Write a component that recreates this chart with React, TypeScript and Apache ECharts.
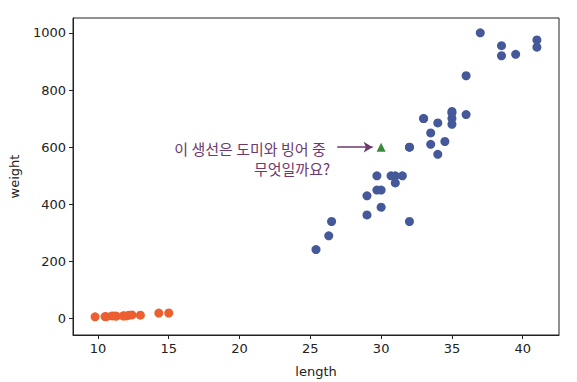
import React, { useEffect, useRef } from "react";
import * as echarts from "echarts";

const breamLength = [25.4, 26.3, 26.5, 29.0, 29.0, 29.7, 29.7, 30.0, 30.0, 30.7, 31.0, 31.0, 31.5, 32.0, 32.0, 32.0, 33.0, 33.0, 33.5, 33.5, 34.0, 34.0, 34.5, 35.0, 35.0, 35.0, 35.0, 36.0, 36.0, 37.0, 38.5, 38.5, 39.5, 41.0, 41.0];
const breamWeight = [242.0, 290.0, 340.0, 363.0, 430.0, 450.0, 500.0, 390.0, 450.0, 500.0, 475.0, 500.0, 500.0, 340.0, 600.0, 600.0, 700.0, 700.0, 610.0, 650.0, 575.0, 685.0, 620.0, 680.0, 700.0, 725.0, 720.0, 714.0, 850.0, 1000.0, 920.0, 955.0, 925.0, 975.0, 950.0];
const smeltLength = [9.8, 10.5, 10.6, 11.0, 11.2, 11.3, 11.8, 11.8, 12.0, 12.2, 12.4, 13.0, 14.3, 15.0];
const smeltWeight = [6.7, 7.5, 7.0, 9.7, 9.8, 8.7, 10.0, 9.9, 9.8, 12.2, 13.4, 12.2, 19.7, 19.9];
const newFish = [30, 600];
const arrowFrom = [26.9, 600];
const arrowTo = [29.4, 600];
const xTicks = [10, 15, 20, 25, 30, 35, 40];
const yTicks = [0, 200, 400, 600, 800, 1000];
const noteLines = ["이 생선은 도미와 빙어 중", "무엇일까요?"];

export default function App() {
  const ref = useRef<HTMLDivElement>(null);
  useEffect(() => {
    if (!ref.current) return;
    const chart = echarts.init(ref.current, undefined, { renderer: "svg" });
    const font = "'DejaVu Sans', sans-serif";
    const purple = "#6e3a6e";
    chart.setOption({
      animation: false,
      grid: {
        left: 65, right: 10, top: 10, bottom: 47,
        containLabel: false, outerBoundsMode: "none",
        show: true, borderColor: "#222", borderWidth: 1, backgroundColor: "transparent",
      },
      xAxis: {
        type: "value",
        min: 8.24,
        max: 42.56,
        name: "length",
        nameLocation: "middle",
        nameGap: 30,
        nameTextStyle: { color: "#222", fontSize: 13, fontFamily: font },
        axisLine: { show: true, onZero: false, lineStyle: { color: "#222", width: 1 } },
        axisTick: { show: true, length: 4, lineStyle: { color: "#222" }, customValues: xTicks },
        axisLabel: { color: "#222", fontSize: 13, fontFamily: font, margin: 7, customValues: xTicks, formatter: (v: number) => String(v) },
        splitLine: { show: false },
      },
      yAxis: {
        type: "value",
        min: -57,
        max: 1052,
        name: "weight",
        nameLocation: "middle",
        nameGap: 52,
        nameTextStyle: { color: "#222", fontSize: 13, fontFamily: font },
        axisLine: { show: true, onZero: false, lineStyle: { color: "#222", width: 1 } },
        axisTick: { show: true, length: 4, lineStyle: { color: "#222" }, customValues: yTicks },
        axisLabel: { color: "#222", fontSize: 13, fontFamily: font, margin: 7, customValues: yTicks, formatter: (v: number) => String(v) },
        splitLine: { show: false },
      },
      series: [
        {
          type: "scatter",
          name: "bream",
          symbolSize: 9,
          itemStyle: { color: "#44589a", opacity: 1 },
          data: breamLength.map((l, i) => [l, breamWeight[i]]),
        },
        {
          type: "scatter",
          name: "smelt",
          symbolSize: 9,
          itemStyle: { color: "#ec5f30", opacity: 1 },
          data: smeltLength.map((l, i) => [l, smeltWeight[i]]),
        },
        {
          type: "scatter",
          name: "new",
          symbol: "triangle",
          symbolSize: 9,
          itemStyle: { color: "#3b8a3b", opacity: 1 },
          data: [newFish],
          markLine: {
            silent: true,
            symbol: ["none", "arrow"],
            symbolSize: [8, 9],
            lineStyle: { color: purple, width: 1.5, type: "solid" },
            label: { show: false },
            data: [[{ coord: arrowFrom }, { coord: arrowTo }]],
          },
        },
      ],
      graphic: [
        {
          type: "text",
          x: 242,
          y: 140,
          style: {
            text: noteLines[0],
            fill: purple,
            font: "15px 'Noto Sans CJK KR'",
            align: "center",
            verticalAlign: "middle",
          },
        },
        {
          type: "text",
          x: 284,
          y: 160,
          style: {
            text: noteLines[1],
            fill: purple,
            font: "15px 'Noto Sans CJK KR'",
            align: "center",
            verticalAlign: "middle",
          },
        },
      ],
    });
    return () => chart.dispose();
  }, []);
  return <div ref={ref} style={{ width: 561, height: 374 }} />;
}
